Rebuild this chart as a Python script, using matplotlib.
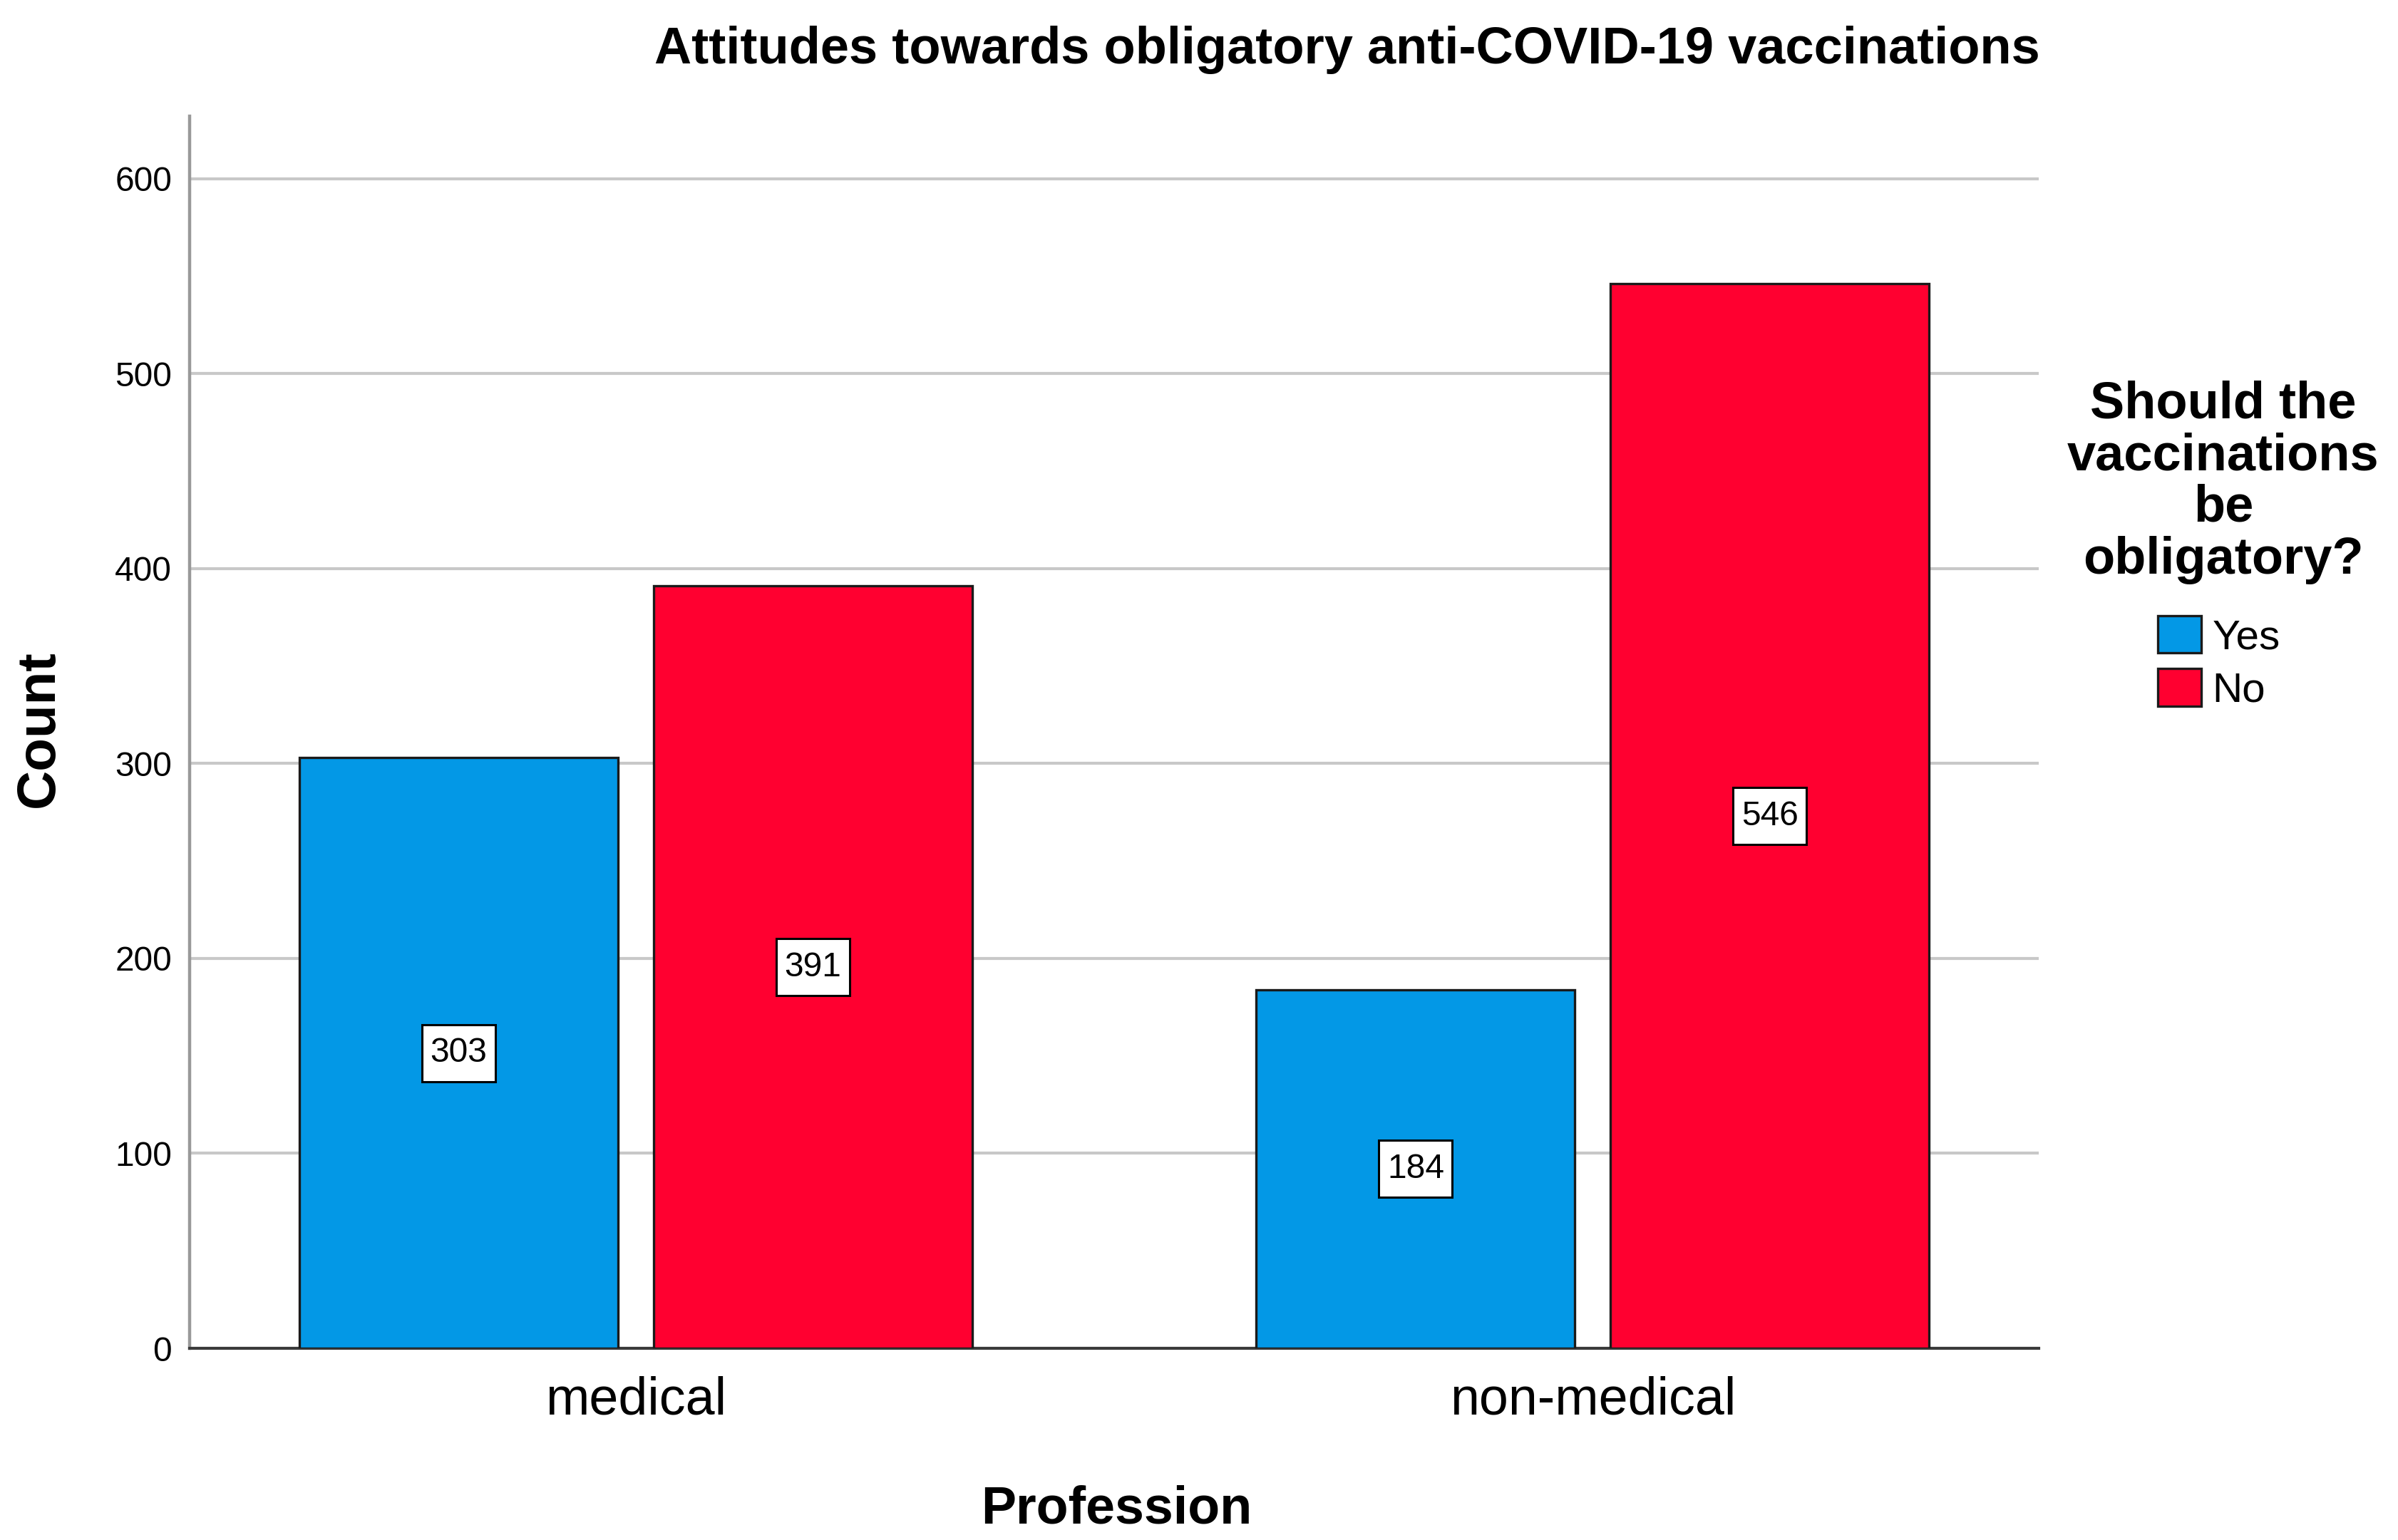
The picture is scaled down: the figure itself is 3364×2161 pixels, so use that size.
#### Imports####
import matplotlib
matplotlib.use("Agg")
import matplotlib.pyplot as plt
import matplotlib.transforms as mtransforms
from matplotlib.patches import Rectangle
import numpy as np

#### Data####
professions = ["medical", "non-medical"]
answers = ["Yes", "No"]
yes_counts = [303, 184]
no_counts = [391, 546]
y_ticks = [0, 100, 200, 300, 400, 500, 600]

chart_title = "Attitudes towards obligatory anti-COVID-19 vaccinations"
legend_title = "Should the\nvaccinations\nbe\nobligatory?"
x_label = "Profession"
y_label = "Count"

#### Style####
BLUE = "#0398e6"
RED = "#ff0030"
W, H = 3364, 2161

plt.rcParams['font.family'] = ['Liberation Sans', 'DejaVu Sans']

fig = plt.figure(figsize=(W / 100, H / 100), dpi=100)
ax = fig.add_axes([266 / W, 1 - 1892 / H, (2860 - 266) / W, (1892 - 163) / H])

#### Bars####
x = np.arange(len(professions))
offset = 0.185
width = 0.333
bars_yes = ax.bar(x - offset, yes_counts, width, color=BLUE, edgecolor="#1a1a1a",
                  linewidth=2.4, label=answers[0], zorder=3)
bars_no = ax.bar(x + offset, no_counts, width, color=RED, edgecolor="#1a1a1a",
                 linewidth=2.4, label=answers[1], zorder=3)

# value boxes in the middle of each bar (box size in inches, like SPSS draws them)
box_w, box_h = 1.03, 0.80
for bars, vals in [(bars_yes, yes_counts), (bars_no, no_counts)]:
    for rect, v in zip(bars, vals):
        xc = rect.get_x() + rect.get_width() / 2
        tr = fig.dpi_scale_trans + mtransforms.ScaledTranslation(xc, v / 2, ax.transData)
        ax.add_patch(Rectangle((-box_w / 2, -box_h / 2), box_w, box_h, transform=tr,
                               facecolor="white", edgecolor="black", linewidth=2.2, zorder=4))
        ax.text(xc, v / 2, str(v), ha="center", va="center", fontsize=34.5, zorder=5)

#### Axes####
ax.set_xlim(-0.466, 1.466)
ax.set_ylim(0, 632)
ax.set_yticks(y_ticks)
ax.set_xticks(x)
ax.set_xticklabels(professions)
ax.tick_params(axis="y", length=0, pad=18, labelsize=34.5)
ax.tick_params(axis="x", length=0, pad=28, labelsize=53)

ax.yaxis.grid(True, color="#c8c8c8", linewidth=3)
ax.set_axisbelow(True)
for side in ["top", "right"]:
    ax.spines[side].set_visible(False)
ax.spines["left"].set_color("#999999")
ax.spines["left"].set_linewidth(3.2)
ax.spines["bottom"].set_color("#3a3a3a")
ax.spines["bottom"].set_linewidth(3)

#### Labels####
fig.text(2862 / W, 1 - 89 / H, chart_title, ha="right", va="baseline",
         fontsize=52, fontweight="bold")
fig.text(55 / W, 1 - 1023 / H, y_label, rotation=90, ha="center", va="center",
         fontsize=55, fontweight="bold")
fig.text(1566 / W, 1 - 2137 / H, x_label, ha="center", va="baseline",
         fontsize=53, fontweight="bold")

# legend title, one line at a time so the spacing matches
for i, line in enumerate(legend_title.split("\n")):
    fig.text(3119 / W, 1 - (586 + i * 73) / H, line, ha="center", va="baseline",
             fontsize=52, fontweight="bold")

fig.legend(handles=[bars_yes, bars_no], loc="upper left",
           bbox_to_anchor=(3027 / W, 1 - 864 / H), frameon=False,
           fontsize=42, borderpad=0, borderaxespad=0, handlelength=1.05,
           handleheight=1.0, handletextpad=0.26, labelspacing=0.28)

plt.savefig("out.png", dpi=100, facecolor="white")
plt.close()
